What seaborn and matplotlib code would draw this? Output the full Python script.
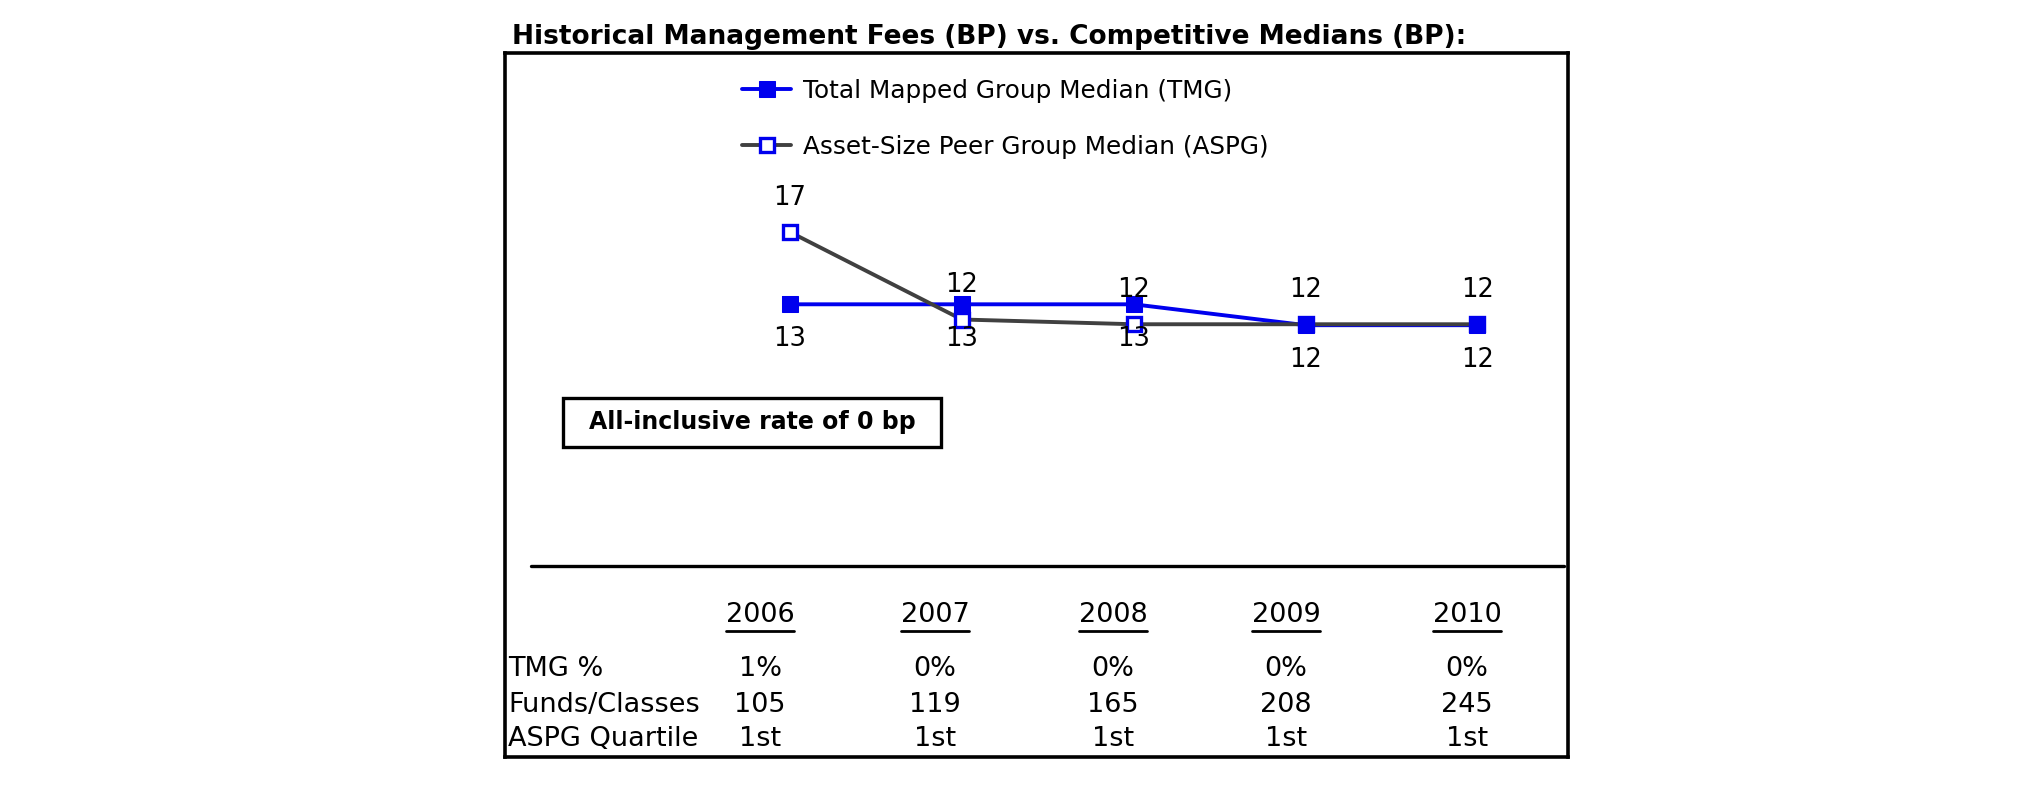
import matplotlib
matplotlib.use('Agg')
import matplotlib.pyplot as plt
import seaborn as sns
import pandas as pd
from matplotlib.lines import Line2D
from matplotlib.patches import Rectangle

# --- data ---
years = [2006, 2007, 2008, 2009, 2010]
tmg_median = [12.8, 12.8, 12.8, 11.7, 11.7]
aspg_median = [16.6, 12.0, 11.75, 11.75, 11.75]
tmg_pct = ['1%', '0%', '0%', '0%', '0%']
funds_classes = [105, 119, 165, 208, 245]
aspg_quartile = ['1st', '1st', '1st', '1st', '1st']
row_labels = ['TMG %', 'Funds/Classes', 'ASPG Quartile']
series_names = ['Total Mapped Group Median (TMG)', 'Asset-Size Peer Group Median (ASPG)']
title = 'Historical Management Fees (BP) vs. Competitive Medians (BP):'
note = 'All-inclusive rate of 0 bp'

BLUE = '#0000ee'
GRAY = '#404040'
W, H = 2025, 806


def fx(px):
    return px / W


def fy(py):
    return 1 - py / H


sns.set_style('white')
plt.rcParams['font.family'] = ['DejaVu Sans']
plt.rcParams['text.color'] = 'black'

fig = plt.figure(figsize=(W / 100, H / 100), dpi=100)

# chart axes doubles as the outer box
box_l, box_t, box_r, box_b = 505, 53, 1568, 757
ax = fig.add_axes([fx(box_l), fy(box_b), (box_r - box_l) / W, (box_b - box_t) / H])

df = pd.DataFrame({'year': years, 'TMG': tmg_median, 'ASPG': aspg_median})
sns.lineplot(data=df, x='year', y='TMG', ax=ax, color=BLUE, lw=2.8, marker='s',
             markersize=12, markeredgecolor=BLUE, label=series_names[0], zorder=2)
sns.lineplot(data=df, x='year', y='ASPG', ax=ax, color=GRAY, lw=2.8, marker='s',
             markersize=10.5, markerfacecolor='white', markeredgecolor=BLUE,
             markeredgewidth=2.4, label=series_names[1], zorder=2.1)
# like Excel: TMG markers sit above both lines
sns.scatterplot(data=df, x='year', y='TMG', ax=ax, color=BLUE, marker='s', s=144,
                linewidth=0, legend=False, zorder=3)

# value labels: ASPG above, TMG below
for x, v in zip(years, aspg_median):
    ax.annotate(f'{v:.0f}', (x, v), xytext=(0, 24.5), textcoords='offset points',
                ha='center', va='center', fontsize=18.5)
for x, v in zip(years, tmg_median):
    ax.annotate(f'{v:.0f}', (x, v), xytext=(0, -25), textcoords='offset points',
                ha='center', va='center', fontsize=18.5)

px_per_year = (1477.5 - 790) / 4
ax.set_xlim(2006 - (790 - box_l) / px_per_year, 2010 + (box_r - 1477.5) / px_per_year)
px_per_bp = 19
ax.set_ylim(12.8 - (box_b - 304.3) / px_per_bp, 12.8 + (304.3 - box_t) / px_per_bp)
ax.set_xticks([])
ax.set_yticks([])
ax.set_xlabel('')
ax.set_ylabel('')
for sp in ax.spines.values():
    sp.set_color('black')
    sp.set_linewidth(2.6)

ax.legend(loc='upper left', bbox_to_anchor=(fx(742), fy(79)), bbox_transform=fig.transFigure,
          frameon=False, fontsize=17.8, handlelength=2.0, handletextpad=0.45,
          labelspacing=1.3, borderpad=0, borderaxespad=0)

# title
fig.text(fx(512), fy(44), title, fontsize=19, fontweight='bold', va='baseline', ha='left')

# note box
fig.add_artist(Rectangle((fx(563), fy(447)), (941 - 563) / W, (447 - 398) / H,
                         transform=fig.transFigure, fill=False, lw=2.4, ec='black'))
fig.text(fx(752), fy(422), note, fontsize=17, fontweight='bold', ha='center', va='center')

# separator line
fig.add_artist(Line2D([fx(531), fx(1564)], [fy(566), fy(566)], transform=fig.transFigure,
                      color='black', lw=2.4))

# table under the chart
col_x = [760, 935, 1113, 1286, 1467]
row_y = [669, 705, 739]
year_texts = []
for cx, yr in zip(col_x, years):
    year_texts.append(fig.text(fx(cx), fy(615), str(yr), fontsize=19.5, ha='center', va='center'))

rows = [tmg_pct, [str(v) for v in funds_classes], aspg_quartile]
for ry, lab, vals in zip(row_y, row_labels, rows):
    fig.text(fx(508), fy(ry), lab, fontsize=19.5, ha='left', va='center')
    for cx, v in zip(col_x, vals):
        fig.text(fx(cx), fy(ry), v, fontsize=19.5, ha='center', va='center')

# underline the years
fig.canvas.draw()
inv = fig.transFigure.inverted()
for t in year_texts:
    bb = t.get_window_extent().transformed(inv)
    fig.add_artist(Line2D([bb.x0, bb.x1], [fy(631), fy(631)], transform=fig.transFigure,
                          color='black', lw=2.0))

fig.savefig('out.png', dpi=100)
